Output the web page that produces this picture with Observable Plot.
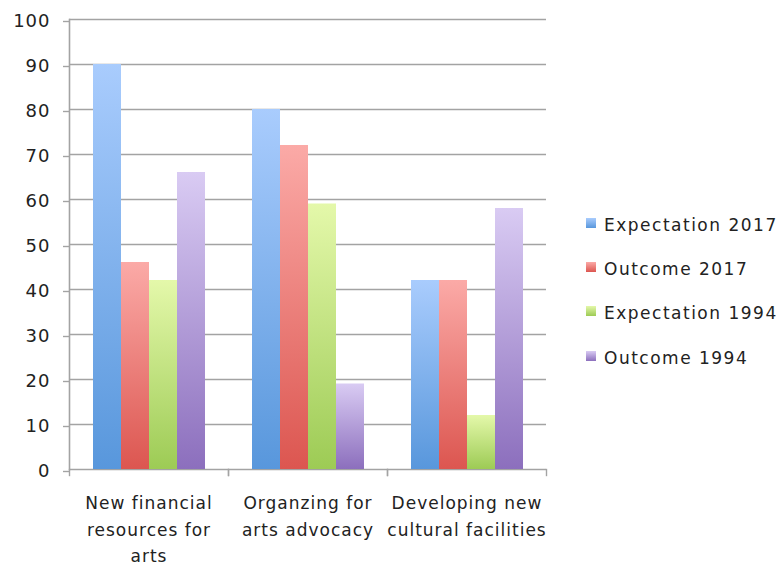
<!DOCTYPE html>
<html>
<head>
<meta charset="utf-8">
<script src="https://cdn.jsdelivr.net/npm/d3@7"></script>
<script src="https://cdn.jsdelivr.net/npm/@observablehq/plot@0.6"></script>
<style>
  html, body { margin: 0; padding: 0; background: #fff; }
  #wrap { position: relative; width: 782px; height: 565px; overflow: hidden; }
  #chart { position: absolute; left: 0; top: 0; }
  #legend { position: absolute; left: 586px; top: 203px; font-family: "DejaVu Sans", sans-serif; font-size: 17px; letter-spacing: 1.5px; color: #222; }
  .item { display: flex; align-items: center; height: 44.2px; white-space: nowrap; }
  .sw { width: 10px; height: 10px; margin-right: 8px; margin-top: -4px; }
</style>
</head>
<body>
<div id="wrap"><div id="chart"></div><div id="legend"></div></div>
<script>
const categories = ["New financial\nresources for\narts", "Organzing for\narts advocacy", "Developing new\ncultural facilities"];
const seriesNames = ["Expectation 2017", "Outcome 2017", "Expectation 1994", "Outcome 1994"];
const expectation2017 = [90, 80, 42];
const outcome2017 = [46, 72, 42];
const expectation1994 = [42, 59, 12];
const outcome1994 = [66, 19, 58];
const yTicks = [0, 10, 20, 30, 40, 50, 60, 70, 80, 90, 100];

const seriesValues = [expectation2017, outcome2017, expectation1994, outcome1994];
const gradTop = ["#a9ccfd", "#fbaaa7", "#e4f8aa", "#d9cbf3"];
const gradBottom = ["#5897dc", "#dc5650", "#9dcb55", "#8c6fbd"];
const gradIds = seriesNames.map((_, i) => `grad${i}`);

const data = [];
categories.forEach((c, ci) => {
  seriesNames.forEach((s, si) => data.push({category: c, series: s, value: seriesValues[si][ci]}));
});

const W = 560, H = 565, mT = 19, mB = 96, mL = 68, mR = 14;
const plotH = H - mT - mB;
const gray = "#a3a3a3";

const svg = Plot.plot({
  width: W, height: H,
  marginTop: mT, marginBottom: mB, marginLeft: mL, marginRight: mR,
  style: {fontFamily: "DejaVu Sans, sans-serif", fontSize: "17px", color: "#222", background: "#fff"},
  fx: {domain: categories, padding: 0, label: null},
  x: {domain: seriesNames, paddingInner: 0, paddingOuter: 0.765, axis: null},
  y: {domain: [0, 100], label: null, axis: null},
  color: {domain: seriesNames, range: gradIds.map(id => `url(#${id})`)},
  marks: [
    Plot.gridY(yTicks, {stroke: gray, strokeOpacity: 1, strokeWidth: 1.4}),
    Plot.barY(data, {fx: "category", x: "series", y: "value", fill: "series"}),
    Plot.frame({anchor: "left", facet: "super", stroke: gray, strokeWidth: 1.6}),
    Plot.frame({anchor: "left", stroke: gray, strokeWidth: 1.4, insetTop: plotH, insetBottom: -6}),
    Plot.frame({anchor: "right", stroke: gray, strokeWidth: 1.4, insetTop: plotH, insetBottom: -6}),
    Plot.axisY({ticks: yTicks, tickSize: 6, tickPadding: 13, stroke: gray, strokeWidth: 1.4, fill: "#222", fontSize: 18, dy: 2, label: null}),
    Plot.axisFx({anchor: "bottom", tickSize: 0, tickPadding: 21, lineHeight: 1.56, fontSize: 17, fill: "#222", label: null})
  ]
});

svg.querySelectorAll("g[aria-label='y-axis tick label'] text").forEach(t => t.setAttribute("letter-spacing", "1px"));
svg.querySelectorAll("g[aria-label='fx-axis tick label'] text").forEach(t => t.setAttribute("letter-spacing", "1px"));

const defs = d3.select(svg).insert("defs", ":first-child");
gradIds.forEach((id, i) => {
  const g = defs.append("linearGradient").attr("id", id).attr("x1", 0).attr("y1", 0).attr("x2", 0).attr("y2", 1);
  g.append("stop").attr("offset", "0%").attr("stop-color", gradTop[i]);
  g.append("stop").attr("offset", "100%").attr("stop-color", gradBottom[i]);
});

document.getElementById("chart").appendChild(svg);

const legend = d3.select("#legend");
seriesNames.forEach((s, i) => {
  const it = legend.append("div").attr("class", "item");
  it.append("div").attr("class", "sw").style("background", `linear-gradient(${gradTop[i]}, ${gradBottom[i]})`);
  it.append("span").text(s);
});
</script>
</body>
</html>
